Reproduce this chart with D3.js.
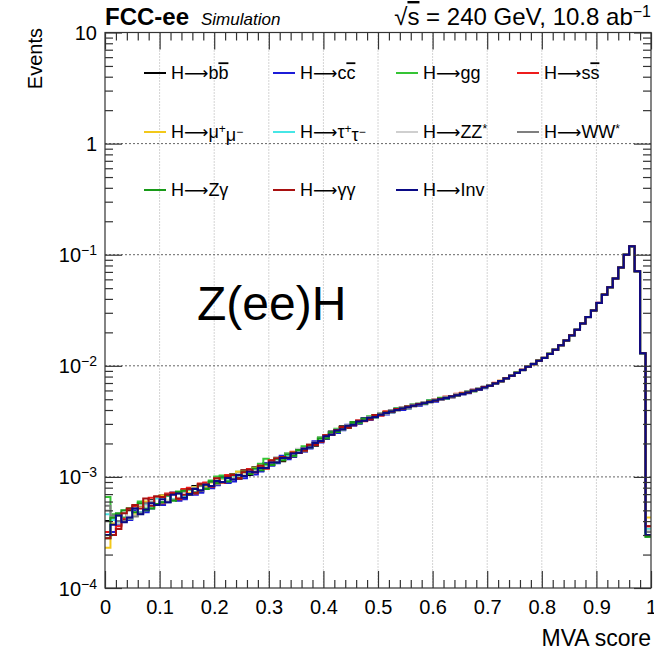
<!DOCTYPE html>
<html>
<head>
<meta charset="utf-8">
<script src="https://cdn.jsdelivr.net/npm/d3@7"></script>
<style>
  body { margin: 0; background: #fff; }
  svg { display: block; font-family: "Liberation Sans", Arial, Helvetica, sans-serif; }
  .grid-x line { stroke: #a8a8a8; stroke-dasharray: 1,2; stroke-width: 1; }
  .grid-y line { stroke: #666; stroke-dasharray: 2,2; stroke-width: 1; }
  .axis path.domain { display: none; }
  .axis line { stroke: #333; stroke-width: 1.2; }
  .axis text { fill: #000; font-size: 20px; }
  .hist { fill: none; stroke-width: 2; }
  .legend text { font-size: 18px; }
</style>
</head>
<body>
<svg id="chart" width="654" height="655"></svg>
<script>
// MVA score distributions, Z(ee)H, FCC-ee 240 GeV
// values, in units of 1e-4 events per bin (100 bins over 0..1)
const UNIT = 1e-4;
const N_BINS = 100;

const bbValues = [
  4.0,4.3,4.6,4.1,5.0,4.5,5.5,5.0,6.2,5.6, 6.8,6.0,7.2,6.4,7.6,6.9,8.3,7.4,8.6,8.3,
  8.5,9.9,9.0,10.6,9.6,11.5,10.4,12.2,11.3,13.2, 12.8,14.9,13.8,16.3,15.2,17.8,17.0,19.8,19.1,22.5,
  22.0,25.6,24.9,28.5,27.5,31.2,30.2,33.7,32.8,35.9, 36.0,38.4,38.5,40.9,40.9,43.2,43.3,45.6,45.7,48.1,
  48.3,50.8,51.1,53.6,54.0,56.6,57.3,60.3,61.2,64.7, 65.9,70.1,72.4,77.6,80.9,87.1,91.4,98.6,103.4,111.6,
  117.4,128.6,139.3,153.7,168.3,188.8,210.2,240.8,274.2,315.8, 367.2,437.8,509.1,611,766,1001,1189,711,129.6,3.3];
const ccValues = [
  3.0,3.2,3.7,4.8,4.1,5.0,5.6,4.8,5.2,6.5, 5.6,5.9,7.2,6.1,6.3,7.9,6.9,7.2,8.8,7.9,
  8.4,10.1,8.8,9.1,11.0,9.7,11.8,10.5,11.2,13.3, 12.6,13.3,15.5,14.4,15.3,17.8,16.9,18.0,20.9,20.4,
  22.2,25.4,24.8,26.3,29.5,28.8,30.3,33.5,32.7,34.0, 35.8,36.5,38.0,41.2,40.0,41.2,44.9,43.5,45.0,48.6,
  47.4,51.2,50.5,51.8,55.8,54.8,56.6,60.9,60.5,62.8, 66.9,69.0,72.5,77.4,81.0,86.0,92.5,97.3,104.5,110.4,
  118.5,127.4,140.6,152.3,169.7,187.4,211.7,239.4,275.5,314.5, 368.6,436.4,510.5,609.4,767.6,999.3,1190.5,709.5,130.4,3.2];
const ggValues = [
  6.6,4.6,4.5,4.3,5.2,5.5,6.0,5.2,5.4,6.6, 6.7,6.8,6.2,7.4,7.6,7.0,8.1,8.4,7.9,9.3,
  10.1,10.3,9.2,10.3,11.1,10.2,11.7,11.9,13.1,14.6, 14.2,13.5,14.2,16.4,15.5,16.4,18.9,18.3,19.4,22.6,
  23.8,23.8,27.1,26.7,27.8,31.1,30.7,31.8,35.1,34.3, 37.6,37.9,38.2,41.5,42.0,41.5,45.3,45.6,45.3,49.0,
  49.4,51.6,50.8,52.2,55.8,56.2,59.2,58.8,62.9,63.3, 66.2,70.0,72.6,77.5,81.0,87.0,91.6,98.5,103.5,111.6,
  117.6,128.5,139.5,153.6,168.5,188.7,210.5,240.6,274.6,315.4, 367.5,437.5,509.4,610.6,766.5,1000.8,1189.5,710.5,129.4,2.9];
const ssValues = [
  3.2,3.0,3.6,4.2,5.1,5.4,4.8,5.9,6.5,6.6, 5.8,7.1,7.2,6.3,7.8,8.0,7.1,8.7,8.9,8.2,
  9.6,8.9,10.4,10.6,9.7,11.4,11.8,11.0,12.6,11.9, 14.1,14.8,14.1,14.8,16.8,16.4,17.3,19.7,19.4,20.8,
  23.8,23.9,25.3,28.2,27.9,29.2,32.3,31.7,33.1,36.1, 35.6,38.9,39.6,40.1,42.5,43.2,43.7,45.2,46.9,47.4,
  50.0,49.2,52.9,52.0,55.9,57.3,56.8,61.0,61.9,64.0, 66.0,70.2,73.5,76.5,81.9,86.0,92.4,98.6,103.5,111.5,
  118.6,127.5,140.7,152.4,169.6,188.6,210.5,240.7,274.5,315.5, 368.5,436.5,510.6,609.5,767.5,1000.5,1190.6,709.4,130.6,3.6];
const mumuValues = [
  2.3,3.8,4.5,4.8,4.3,4.6,5.5,6.0,5.3,5.6, 6.8,6.1,6.3,7.3,6.7,7.2,8.1,7.6,8.1,8.9,
  9.4,9.6,9.3,9.6,11.1,10.3,10.6,12.1,11.6,12.1, 13.0,14.7,14.3,15.0,16.7,16.6,17.4,19.5,19.6,21.9,
  22.6,25.0,25.6,27.7,29.1,29.6,31.7,32.2,34.3,34.6, 36.7,37.6,39.2,40.0,41.6,42.4,44.0,44.8,46.4,47.3,
  49.0,50.0,51.8,52.8,54.7,55.8,58.0,59.5,62.0,63.8, 66.7,69.3,73.2,76.8,81.7,86.3,92.2,97.8,104.2,110.8,
  118.3,127.8,140.3,152.8,169.3,187.8,211.3,239.7,275.3,314.8, 368.3,436.8,510.3,609.7,767.3,999.7,1190.3,709.8,130.2,4.3];
const tautauValues = [
  4.6,4.1,3.9,4.8,4.2,5.2,4.8,5.7,5.4,6.4, 5.9,6.8,6.3,7.2,6.7,7.7,7.3,8.3,7.9,9.0,
  8.7,9.7,9.3,10.3,9.9,11.0,10.7,11.8,11.6,12.8, 13.1,14.4,14.3,15.7,15.7,17.3,17.5,19.2,19.7,21.8,
  22.7,24.9,25.7,27.7,28.3,30.4,31.0,33.0,33.5,35.4, 36.4,37.9,38.9,40.3,41.3,42.7,43.7,45.1,46.1,47.6,
  48.7,50.3,51.5,53.1,54.4,56.1,57.7,59.8,61.7,64.1, 66.4,69.6,72.9,77.1,81.4,86.6,91.9,98.1,103.9,111.1,
  117.9,128.1,139.9,153.1,168.9,188.1,210.9,240.1,274.9,315.1, 367.9,437.1,509.9,610.1,766.9,1000.1,1189.9,710.1,129.9,3.4];
const zzValues = [
  5.0,4.4,3.8,4.9,4.4,4.5,5.6,5.5,6.1,5.7, 6.6,6.1,7.0,6.5,7.4,7.0,8.0,7.6,8.6,8.3,
  9.4,9.0,10.0,9.6,10.7,10.3,11.5,11.1,12.4,12.1, 13.9,14.9,14.4,16.2,15.8,17.9,17.6,19.8,19.8,22.0,
  23.5,24.0,26.6,26.8,29.3,29.5,32.0,32.1,34.5,34.5, 37.4,37.0,39.9,39.4,42.4,41.8,44.8,44.2,47.2,46.7,
  49.8,49.4,52.6,52.2,55.5,55.2,58.8,58.9,62.8,63.1, 66.8,69.2,73.3,76.7,81.8,86.2,92.3,97.7,104.3,110.7,
  118.4,127.7,140.4,152.7,169.4,187.7,211.4,239.6,275.4,314.6, 368.4,436.7,510.4,609.6,767.4,999.6,1190.4,709.6,130.3,3.3];
const wwValues = [
  5.5,4.5,4.0,4.0,4.2,4.4,4.7,5.8,5.9,5.6, 5.9,6.9,6.2,7.1,7.4,7.0,7.9,8.3,7.9,9.0,
  8.6,9.0,10.0,9.6,9.9,11.1,10.7,11.2,12.4,12.1, 13.3,13.7,15.1,14.9,16.4,16.5,18.2,18.5,20.4,21.0,
  23.4,24.2,26.4,26.9,29.0,29.7,31.7,32.3,34.2,34.7, 37.2,37.3,39.7,39.6,42.1,42.0,44.5,44.4,47.0,46.8,
  49.5,49.6,52.3,52.4,55.3,55.4,58.6,59.1,62.6,63.4, 66.6,69.4,73.1,76.9,81.6,86.4,92.1,97.9,104.1,110.9,
  118.1,127.9,140.1,152.9,169.1,187.9,211.1,239.9,275.1,314.9, 368.1,436.9,510.1,609.9,767.1,999.9,1190.1,709.9,130.1,3.2];
const zgamValues = [
  2.8,4.3,4.7,5.0,5.2,4.8,5.8,5.0,5.2,5.7, 5.9,6.8,6.1,7.3,7.5,7.7,7.2,8.5,7.8,9.1,
  8.8,9.9,9.1,10.5,9.8,11.2,10.6,11.9,11.5,13.0, 12.8,14.6,14.1,16.0,15.5,17.5,17.4,19.3,19.5,22.2,
  22.3,25.2,25.3,28.0,28.1,30.7,30.7,33.3,33.2,35.7, 36.3,38.1,38.8,40.5,41.2,42.9,43.5,45.3,45.9,47.8,
  48.6,50.4,51.4,53.2,54.3,56.2,57.6,59.9,61.6,64.2, 66.3,69.7,72.8,77.2,81.3,86.7,91.8,98.2,103.8,111.2,
  117.8,128.2,139.8,153.2,168.8,188.2,210.8,240.2,274.8,315.2, 367.8,437.2,509.8,610.2,766.8,1000.2,1189.8,710.2,129.8,2.9];
const gamgamValues = [
  2.8,3.0,3.4,4.7,5.2,5.6,5.2,6.4,5.5,6.7, 6.6,6.9,7.1,6.4,6.9,7.8,7.2,8.6,8.6,8.2,
  9.7,8.9,10.1,10.4,9.7,11.0,11.6,11.0,12.6,11.9, 14.0,14.7,15.1,14.8,16.6,16.4,17.3,19.5,19.4,20.7,
  23.7,23.9,26.5,28.1,27.9,29.3,32.1,31.8,33.1,36.0, 36.2,38.2,38.6,40.8,41.1,42.8,43.6,45.2,46.0,47.7,
  48.5,50.5,51.3,53.3,54.2,56.3,57.5,60.0,61.5,64.3, 66.2,69.8,72.7,77.3,81.2,86.8,91.7,98.3,103.7,111.3,
  117.7,128.3,139.7,153.3,168.7,188.3,210.7,240.3,274.7,315.3, 367.7,437.3,509.7,610.3,766.7,1000.3,1189.7,710.3,129.7,3.6];
const invValues = [
  3.0,3.7,4.5,3.9,4.3,5.2,4.6,5.1,5.8,5.6, 6.3,5.9,6.9,7.1,6.5,7.0,7.8,7.6,8.5,8.3,
  9.2,9.0,9.8,9.5,10.4,10.2,11.1,11.0,12.0,12.0, 13.5,13.5,14.8,14.9,16.2,16.5,17.9,18.4,20.2,21.0,
  23.2,24.0,26.2,26.8,28.8,29.5,31.5,32.1,34.0,34.6, 36.3,37.6,38.8,40.0,41.2,42.4,43.6,44.8,46.0,47.3,
  48.6,50.0,51.4,52.8,54.3,55.8,57.6,59.5,61.6,63.8, 66.3,69.3,72.8,76.8,81.3,86.3,91.8,97.8,103.8,110.8,
  117.8,127.8,139.8,152.8,168.8,187.8,210.8,239.8,274.8,314.8, 367.8,436.8,509.8,609.8,766.8,999.8,1189.8,709.8,129.8,3.0];

// legend labels (ROOT-like markup: #bar{x} overline, ^{x} superscript)
const seriesLabels = ["H→b#bar{b}","H→c#bar{c}","H→gg","H→s#bar{s}",
  "H→μ^{+}μ^{−}","H→τ^{+}τ^{−}","H→ZZ^{*}","H→WW^{*}",
  "H→Zγ","H→γγ","H→Inv"];
const seriesValues = [bbValues, ccValues, ggValues, ssValues, mumuValues, tautauValues,
  zzValues, wwValues, zgamValues, gamgamValues, invValues];
const seriesColors = ["#000000","#1c1cd8","#35c435","#ee1c1c","#f2c81a","#46e6e6",
  "#cfcfcf","#7f7f7f","#189a18","#a81010","#0a0a86"];

const X_TICKS = [0,0.1,0.2,0.3,0.4,0.5,0.6,0.7,0.8,0.9,1];
const X_TICK_LABELS = ["0","0.1","0.2","0.3","0.4","0.5","0.6","0.7","0.8","0.9","1"];
const Y_TICKS = [1e-4,1e-3,1e-2,1e-1,1,10];
const Y_TICK_LABELS = [["10","−4"],["10","−3"],["10","−2"],["10","−1"],["1",""],["10",""]];

// layout
const M = { left: 105, right: 3, top: 32.5, bottom: 67 };
const SVG_W = 654, SVG_H = 655;
const W = SVG_W - M.left - M.right;
const H = SVG_H - M.top - M.bottom;
const MAJOR = 17, MINOR = 8;

const svg = d3.select("#chart");
const x = d3.scaleLinear().domain([0, 1]).range([M.left, M.left + W]);
const y = d3.scaleLog().domain([1e-4, 10]).range([M.top + H, M.top]);

const xMinor = d3.range(0, 1.0001, 0.02).filter(v => Math.abs(v * 10 - Math.round(v * 10)) > 1e-6);
const yMinor = y.ticks().filter(v => Math.abs(Math.log10(v) - Math.round(Math.log10(v))) > 1e-6);

// grid
svg.append("g").attr("class", "grid-x")
  .selectAll("line").data(X_TICKS.slice(1, -1)).join("line")
  .attr("x1", d => x(d)).attr("x2", d => x(d))
  .attr("y1", M.top).attr("y2", M.top + H);
svg.append("g").attr("class", "grid-y")
  .selectAll("line").data(Y_TICKS.slice(1, -1)).join("line")
  .attr("x1", M.left).attr("x2", M.left + W)
  .attr("y1", d => y(d)).attr("y2", d => y(d));

// histograms
svg.append("clipPath").attr("id", "plotclip").append("rect")
  .attr("x", M.left).attr("y", M.top).attr("width", W).attr("height", H);

const line = d3.line().curve(d3.curveStepAfter).x(d => x(d[0])).y(d => y(d[1]));
const toPoints = vals => {
  const pts = vals.map((v, i) => [i / N_BINS, v * UNIT]);
  pts.push([1, vals[vals.length - 1] * UNIT]);
  return pts;
};
svg.append("g").attr("clip-path", "url(#plotclip)")
  .selectAll("path.hist").data(seriesValues).join("path")
  .attr("class", "hist")
  .attr("stroke", (d, i) => seriesColors[i])
  .attr("d", d => line(toPoints(d)));

// axes (ROOT style: ticks inside, mirrored on top/right)
const ax = (gen, tx, ty) => svg.append("g").attr("class", "axis").attr("transform", `translate(${tx},${ty})`).call(gen);
ax(d3.axisBottom(x).tickValues(X_TICKS).tickSize(-MAJOR).tickPadding(9)
  .tickFormat((d, i) => X_TICK_LABELS[i]), 0, M.top + H)
  .selectAll("text").attr("dy", "0.85em");
ax(d3.axisBottom(x).tickValues(xMinor).tickSize(-MINOR).tickFormat(""), 0, M.top + H);
ax(d3.axisTop(x).tickValues(X_TICKS).tickSize(-MAJOR).tickFormat(""), 0, M.top);
ax(d3.axisTop(x).tickValues(xMinor).tickSize(-MINOR).tickFormat(""), 0, M.top);

const gY = ax(d3.axisLeft(y).tickValues(Y_TICKS).tickSize(-MAJOR).tickPadding(8), M.left, 0);
gY.selectAll(".tick text").each(function (d) {
  const [base, exp] = Y_TICK_LABELS[Y_TICKS.indexOf(d)];
  const t = d3.select(this).text(null).attr("dy", "0.35em");
  t.append("tspan").text(base);
  if (exp) t.append("tspan").attr("dy", "-0.5em").style("font-size", "14px").text(exp);
});
ax(d3.axisLeft(y).tickValues(yMinor).tickSize(-MINOR).tickFormat(""), M.left, 0);
ax(d3.axisRight(y).tickValues(Y_TICKS).tickSize(-MAJOR).tickFormat(""), M.left + W, 0);
ax(d3.axisRight(y).tickValues(yMinor).tickSize(-MINOR).tickFormat(""), M.left + W, 0);

svg.append("rect").attr("x", M.left).attr("y", M.top).attr("width", W).attr("height", H)
  .attr("fill", "none").attr("stroke", "#333").attr("stroke-width", 1.2);

// rich text helper: #bar{..}, ^{..} and a wide arrow
function richText(sel, str, supSize) {
  const re = /#bar\{([^}]*)\}|\^\{([^}]*)\}|(→)/g;
  let last = 0, m;
  while ((m = re.exec(str)) !== null) {
    if (m.index > last) sel.append("tspan").text(str.slice(last, m.index));
    if (m[1] !== undefined) {
      sel.append("tspan").style("text-decoration", "overline").text(m[1]);
    } else if (m[2] !== undefined) {
      sel.append("tspan").attr("dy", "-0.45em").style("font-size", supSize).text(m[2]);
      sel.append("tspan").attr("dy", "0.45em").text("\u200B");
    } else {
      sel.append("tspan").style("font-family", "'DejaVu Sans'").style("font-size", "17px").text("⟶");
    }
    last = re.lastIndex;
  }
  if (last < str.length) sel.append("tspan").text(str.slice(last));
}

// legend: 4 columns x 3 rows
const colX = [144, 273, 396, 517];
const rowY = [73, 132, 190];
const leg = svg.append("g").attr("class", "legend")
  .selectAll("g").data(seriesLabels).join("g")
  .attr("transform", (d, i) => `translate(${colX[i % 4]},${rowY[Math.floor(i / 4)]})`);
leg.append("line").attr("x1", 0).attr("x2", 22).attr("y1", 0).attr("y2", 0)
  .attr("stroke", (d, i) => seriesColors[i]).attr("stroke-width", 2);
leg.append("text").attr("x", 27).attr("dy", "0.35em")
  .each(function (d) { richText(d3.select(this), d, "12px"); });

// titles
svg.append("text").attr("x", M.left).attr("y", 25)
  .style("font-weight", "bold").style("font-size", "24px").text("FCC-ee");
svg.append("text").attr("x", 201).attr("y", 25)
  .style("font-style", "italic").style("font-size", "17px").text("Simulation");
const lumi = svg.append("text").attr("x", M.left + W).attr("y", 25)
  .attr("text-anchor", "end").style("font-size", "24px");
lumi.append("tspan").text("√");
lumi.append("tspan").style("text-decoration", "overline").text("s");
lumi.append("tspan").text(" = 240 GeV, 10.8 ab");
lumi.append("tspan").attr("dy", "-0.5em").style("font-size", "16px").text("−1");

svg.append("text").attr("x", 197).attr("y", 320)
  .style("font-size", "48px").text("Z(ee)H");

svg.append("text").attr("transform", "translate(42,28) rotate(-90)")
  .attr("text-anchor", "end").style("font-size", "20px").text("Events");
svg.append("text").attr("x", M.left + W).attr("y", 646)
  .attr("text-anchor", "end").style("font-size", "23px").text("MVA score");
</script>
</body>
</html>
